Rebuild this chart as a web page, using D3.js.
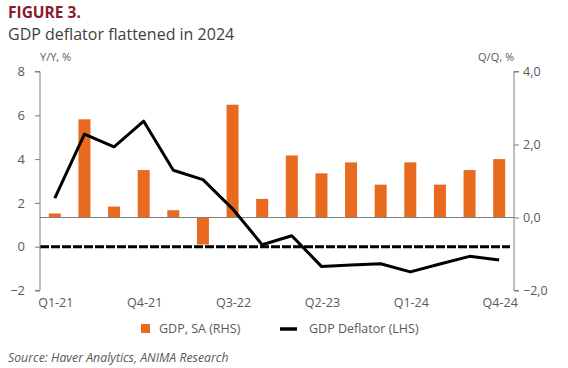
<!DOCTYPE html>
<html><head><meta charset="utf-8">
<script src="https://cdn.jsdelivr.net/npm/d3@7"></script>
<style>
body{margin:0;background:#fff;}
svg{display:block;font-family:"Open Sans",sans-serif;}
</style></head>
<body><svg id="c" width="568" height="368"></svg>
<script>
const quarters = ["Q1-21","Q2-21","Q3-21","Q4-21","Q1-22","Q2-22","Q3-22","Q4-22","Q1-23","Q2-23","Q3-23","Q4-23","Q1-24","Q2-24","Q3-24","Q4-24"];
const gdpSA = [0.11,2.69,0.30,1.30,0.20,-0.74,3.09,0.51,1.70,1.21,1.51,0.90,1.51,0.90,1.30,1.60];
const deflator = [2.22,5.14,4.56,5.73,3.49,3.06,1.73,0.09,0.50,-0.90,-0.83,-0.78,-1.15,-0.79,-0.44,-0.61];
const xTickLabels = ["Q1-21","Q4-21","Q3-22","Q2-23","Q1-24","Q4-24"];
const leftTicks = [-2,0,2,4,6,8];
const rightTicks = [-2,0,2,4];

const svg = d3.select("#c");
const L = 40, R = 514, T = 71.5, B = 290.5;
const xc = d3.scaleBand().domain(quarters).range([L, R]);
const yL = d3.scaleLinear().domain([-2, 8]).range([B, T]);
const yR = d3.scaleLinear().domain([-2, 4]).range([B, T]);
const gray = "#7f7f7f", txt = "#595959", orange = "#E86A1F";

// Title
svg.append("text").attr("x", 8).attr("y", 18).attr("font-size", 15.5).attr("font-weight", 700)
  .attr("fill", "#8A1A2E").text("FIGURE 3.");
svg.append("text").attr("x", 8).attr("y", 40).attr("font-size", 16).attr("fill", "#404040")
  .text("GDP deflator flattened in 2024");
svg.append("text").attr("x", 40).attr("y", 61).attr("font-size", 11).attr("fill", txt).text("Y/Y, %");
svg.append("text").attr("x", 514).attr("y", 61).attr("font-size", 11).attr("fill", txt).attr("text-anchor", "end").text("Q/Q, %");

// Bars (RHS)
svg.append("g").selectAll("rect").data(gdpSA).join("rect")
  .attr("x", (d, i) => xc(quarters[i]) + xc.bandwidth() / 2 - 6)
  .attr("width", 12)
  .attr("y", d => yR(Math.max(0, d)))
  .attr("height", d => Math.abs(yR(d) - yR(0)))
  .attr("fill", orange);

// zero line of RHS
svg.append("line").attr("x1", L).attr("x2", R).attr("y1", yR(0)).attr("y2", yR(0))
  .attr("stroke", gray).attr("stroke-width", 1);

// zero dashed line of LHS
svg.append("line").attr("x1", L).attr("x2", R - 4).attr("y1", yL(0)).attr("y2", yL(0))
  .attr("stroke", "#000").attr("stroke-width", 3).attr("stroke-dasharray", "9,2");

// Deflator line (LHS)
const line = d3.line().x((d, i) => xc(quarters[i]) + xc.bandwidth() / 2).y(d => yL(d));
svg.append("path").datum(deflator).attr("d", line).attr("fill", "none")
  .attr("stroke", "#000").attr("stroke-width", 3).attr("stroke-linejoin", "round");

// Left axis
const gl = svg.append("g").attr("transform", `translate(${L},0)`)
  .call(d3.axisLeft(yL).tickValues(leftTicks).tickSize(5).tickPadding(10).tickFormat(d3.format("d")));
gl.select(".domain").attr("stroke", gray).attr("d", `M-5,${yL(8)}H0V${yL(-2)}H-5`);
gl.selectAll(".tick line").attr("stroke", gray);
gl.selectAll(".tick text").attr("fill", txt).attr("font-size", 13).attr("font-family", "Open Sans, sans-serif");

// Right axis
const gr = svg.append("g").attr("transform", `translate(${R},0)`)
  .call(d3.axisRight(yR).tickValues(rightTicks).tickSize(5).tickPadding(4).tickFormat(d => d3.format(".1f")(d).replace(".", ",")));
gr.select(".domain").attr("stroke", gray).attr("d", `M5,${yR(4)}H0V${yR(-2)}H5`);
gr.selectAll(".tick line").attr("stroke", gray);
gr.selectAll(".tick text").attr("fill", txt).attr("font-size", 12.5).attr("font-family", "Open Sans, sans-serif");

// X labels
svg.append("g").selectAll("text").data(xTickLabels).join("text")
  .attr("x", d => xc(d) + xc.bandwidth() / 2 + 1)
  .attr("y", 307).attr("text-anchor", "middle").attr("font-size", 12.5).attr("fill", txt)
  .text(d => d);

// Legend
svg.append("rect").attr("x", 141).attr("y", 324).attr("width", 9).attr("height", 9).attr("fill", orange);
svg.append("text").attr("x", 159).attr("y", 333).attr("font-size", 12.5).attr("fill", txt).text("GDP, SA (RHS)");
svg.append("line").attr("x1", 280).attr("x2", 297).attr("y1", 329).attr("y2", 329).attr("stroke", "#000").attr("stroke-width", 3.5);
svg.append("text").attr("x", 309).attr("y", 333).attr("font-size", 12.5).attr("fill", txt).text("GDP Deflator (LHS)");

// Source
svg.append("text").attr("x", 8).attr("y", 362).attr("font-size", 12.3).attr("font-style", "italic").attr("fill", txt)
  .text("Source: Haver Analytics, ANIMA Research");
</script></body></html>
